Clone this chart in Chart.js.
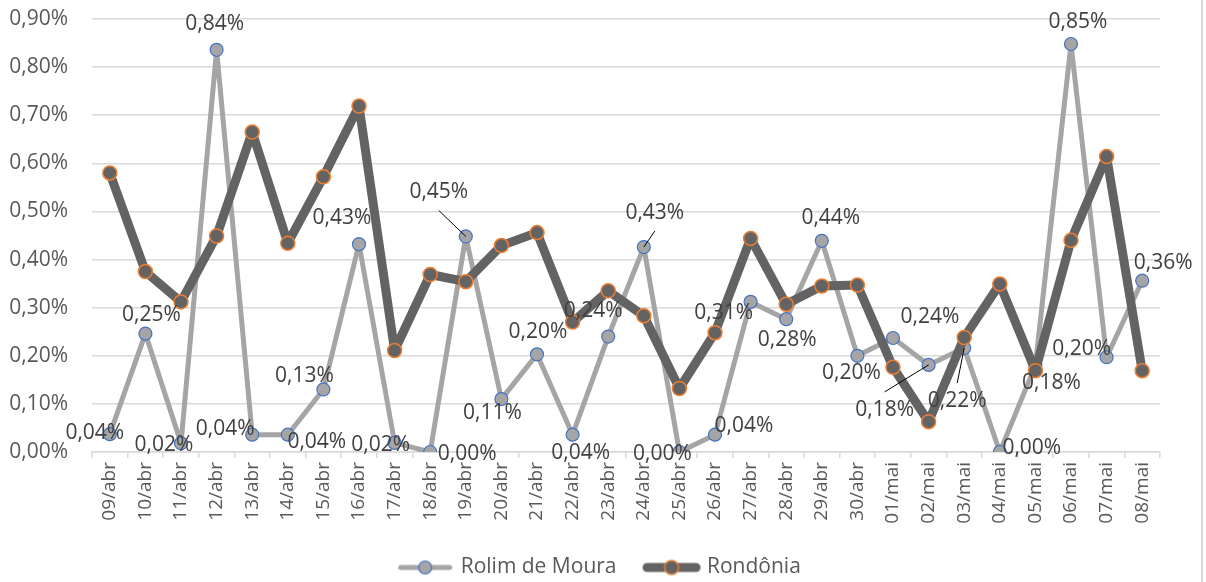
<!DOCTYPE html>
<html lang="pt-BR">
<head>
<meta charset="utf-8">
<title>Rolim de Moura x Rondônia</title>
<script src="https://cdn.jsdelivr.net/npm/chart.js@4.4.1/dist/chart.umd.min.js"></script>
<style>
  html, body { margin: 0; padding: 0; background: #fff; }
  #wrap { position: relative; width: 1201px; height: 582px; border-right: 2px solid #d9d9d9; }
</style>
</head>
<body>
<div id="wrap"><canvas id="chart"></canvas></div>
<script>
// dados (em %)
const dias = [
  '09/abr','10/abr','11/abr','12/abr','13/abr','14/abr','15/abr','16/abr','17/abr','18/abr',
  '19/abr','20/abr','21/abr','22/abr','23/abr','24/abr','25/abr','26/abr','27/abr','28/abr',
  '29/abr','30/abr','01/mai','02/mai','03/mai','04/mai','05/mai','06/mai','07/mai','08/mai'
];
const rolimDeMoura = [
  0.037, 0.246, 0.018, 0.836, 0.036, 0.036, 0.130, 0.432, 0.019, 0.000,
  0.448, 0.110, 0.203, 0.036, 0.240, 0.426, 0.000, 0.036, 0.312, 0.276,
  0.439, 0.200, 0.237, 0.181, 0.216, 0.000, 0.180, 0.848, 0.197, 0.356
];
const rondonia = [
  0.580, 0.375, 0.312, 0.449, 0.665, 0.434, 0.572, 0.719, 0.211, 0.369,
  0.354, 0.429, 0.456, 0.270, 0.335, 0.283, 0.132, 0.248, 0.444, 0.307,
  0.345, 0.347, 0.176, 0.063, 0.238, 0.349, 0.169, 0.440, 0.614, 0.169
];
const yTicks = [0, 0.1, 0.2, 0.3, 0.4, 0.5, 0.6, 0.7, 0.8, 0.9];

// posição dos rótulos de Rolim de Moura (deslocamento em px a partir do ponto)
const labelOffsets = [
  [-15,-1], [6,-19], [-17,2], [-2,-26], [-27,-6], [29,7], [-19,-13], [-17,-26], [-14,2], [37,2],
  [-27,-44], [-9,14], [1,-22], [8,18], [-15,-26], [11,-34], [-17,2], [29,-9], [-27,11], [1,21],
  [9,-23], [-6,17], [37,-21], [-44,45], [-7,53], [32,-4], [16,18], [7,-22], [-25,-8], [21,-18]
];
const leaderLines = [10, 15, 23, 24];

const FONT = '"Open Sans", "Liberation Sans", sans-serif';
const fmt = (v) => v.toFixed(2).replace('.', ',') + '%';

// ícone da legenda: linha com marcador
function legendIcon(w, lw, line, fill, stroke, r, sw) {
  const c = document.createElement('canvas');
  c.width = w; c.height = 20;
  const ctx = c.getContext('2d');
  ctx.strokeStyle = line;
  ctx.lineWidth = lw;
  ctx.lineCap = 'round';
  ctx.beginPath();
  ctx.moveTo(lw / 2 + 1, 10);
  ctx.lineTo(w - lw / 2 - 1, 10);
  ctx.stroke();
  ctx.beginPath();
  ctx.arc(w / 2, 10, r, 0, Math.PI * 2);
  ctx.fillStyle = fill;
  ctx.fill();
  ctx.lineWidth = sw;
  ctx.strokeStyle = stroke;
  ctx.stroke();
  return c;
}
const iconRolim = legendIcon(56, 5, '#a5a5a5', '#a5a5a5', '#4472c4', 6.5, 1.2);
const iconRondonia = legendIcon(60, 9, '#636363', '#636363', '#ed7d31', 7, 1.5);

// rótulos de dados só para Rolim de Moura
const rotulos = {
  id: 'rotulos',
  afterDatasetsDraw(chart) {
    const meta = chart.getDatasetMeta(0);
    const ctx = chart.ctx;
    ctx.save();
    ctx.font = '21px ' + FONT;
    ctx.fillStyle = '#404040';
    ctx.textAlign = 'center';
    ctx.textBaseline = 'middle';
    meta.data.forEach((pt, i) => {
      const [dx, dy] = labelOffsets[i];
      const lx = pt.x + dx, ly = pt.y + dy;
      if (leaderLines.includes(i)) {
        const sy = ly + (pt.y > ly ? 18 : -18);
        ctx.strokeStyle = '#000';
        ctx.lineWidth = 1;
        ctx.beginPath();
        ctx.moveTo(lx, sy);
        ctx.lineTo(pt.x, pt.y);
        ctx.stroke();
      }
      ctx.fillText(fmt(rolimDeMoura[i]), lx, ly);
    });
    ctx.restore();
  }
};

// centraliza a legenda na largura toda (não só até o fim do gráfico)
const legendaCentro = {
  id: 'legendaCentro',
  afterLayout(chart) {
    chart.legend.right = chart.width;
  }
};

new Chart(document.getElementById('chart'), {
  type: 'line',
  data: {
    labels: dias,
    datasets: [
      {
        label: 'Rolim de Moura',
        data: rolimDeMoura,
        borderColor: '#a5a5a5',
        borderWidth: 5,
        backgroundColor: '#a5a5a5',
        pointBackgroundColor: '#a5a5a5',
        pointBorderColor: '#4472c4',
        pointBorderWidth: 1.2,
        pointRadius: 6.5,
        borderJoinStyle: 'round',
        tension: 0,
        order: 1
      },
      {
        label: 'Rondônia',
        data: rondonia,
        borderColor: '#636363',
        borderWidth: 9,
        backgroundColor: '#636363',
        pointBackgroundColor: '#636363',
        pointBorderColor: '#ed7d31',
        pointBorderWidth: 1.5,
        pointRadius: 7,
        borderJoinStyle: 'round',
        tension: 0,
        order: 0
      }
    ]
  },
  options: {
    responsive: true,
    maintainAspectRatio: false,
    animation: false,
    layout: { padding: { top: 19, left: 0, right: 41, bottom: -6 } },
    plugins: {
      tooltip: { enabled: false },
      legend: {
        position: 'bottom',
        labels: {
          usePointStyle: true,
          pointStyleWidth: 50,
          padding: 30,
          color: '#595959',
          font: { family: FONT, size: 21 },
          sort: (a, b) => a.datasetIndex - b.datasetIndex,
          generateLabels(chart) {
            const items = Chart.defaults.plugins.legend.labels.generateLabels(chart);
            items.forEach(it => { it.pointStyle = it.datasetIndex === 0 ? iconRolim : iconRondonia; });
            return items;
          }
        }
      }
    },
    scales: {
      x: {
        offset: true,
        grid: { offset: true, drawOnChartArea: false, drawTicks: true, tickLength: 6, color: '#d9d9d9', lineWidth: 1.5 },
        border: { color: '#d9d9d9', width: 1.5 },
        ticks: {
          color: '#595959',
          font: { family: FONT, size: 19 },
          minRotation: 90,
          maxRotation: 90,
          padding: 4,
          autoSkip: false
        },
        afterFit(scale) { scale.height = 75; }
      },
      y: {
        min: 0,
        max: 0.9,
        afterBuildTicks(scale) { scale.ticks = yTicks.map(v => ({ value: v })); },
        grid: { color: '#d9d9d9', lineWidth: 1.5, drawTicks: false },
        border: { display: false },
        ticks: {
          color: '#595959',
          font: { family: FONT, size: 21 },
          padding: 24,
          callback: (v) => fmt(v)
        },
        afterFit(scale) { scale.width = 92; scale.paddingTop = 0; scale.paddingBottom = 0; }
      }
    }
  },
  plugins: [rotulos, legendaCentro]
});
</script>
</body>
</html>
